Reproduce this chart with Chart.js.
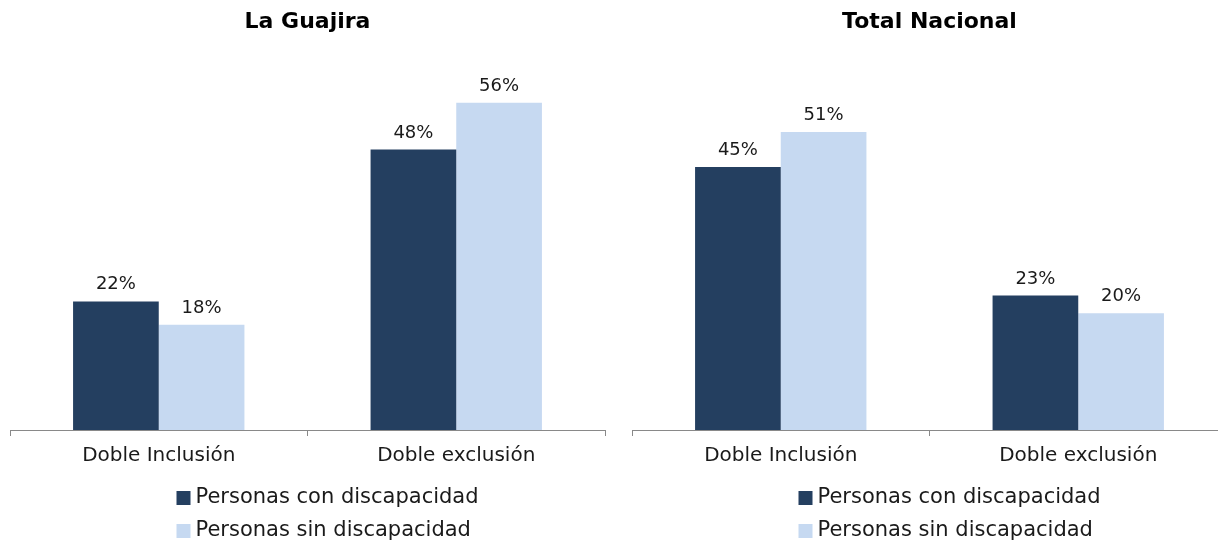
<!DOCTYPE html>
<html>
<head>
<meta charset="utf-8">
<script src="https://cdn.jsdelivr.net/npm/chart.js@4.4.1/dist/chart.umd.min.js"></script>
<style>
  html, body { margin: 0; padding: 0; background: #fff; overflow: hidden; }
  #wrap { position: relative; width: 1218px; height: 540px; overflow: hidden; }
  .box { position: absolute; top: 0; width: 615px; height: 540px; }
</style>
</head>
<body>
<div id="wrap">
  <div class="box" style="left:0"><canvas id="chartGuajira"></canvas></div>
  <div class="box" style="left:615px"><canvas id="chartNacional"></canvas></div>
</div>
<script>
// datos
var categorias = ['Doble Inclusión', 'Doble exclusión'];
var series = ['Personas con discapacidad', 'Personas sin discapacidad'];
var guajiraCon = [22, 48];
var guajiraSin = [18, 56];
var nacionalCon = [45, 23];
var nacionalSin = [51, 20];
var titulos = ['La Guajira', 'Total Nacional'];

var colores = ['#243f60', '#c6d9f1'];
var fuente = "'DejaVu Sans', sans-serif";

// etiquetas de valor encima de cada barra
const etiquetas = {
    id: 'etiquetas_valor',
    afterDatasetsDraw: (chart) => {
        const ctx = chart.ctx;
        ctx.save();
        ctx.fillStyle = '#1a1a1a';
        ctx.font = '18px ' + fuente;
        ctx.textAlign = 'center';
        ctx.textBaseline = 'alphabetic';
        chart.data.datasets.forEach(function (ds, i) {
            chart.getDatasetMeta(i).data.forEach(function (bar, j) {
                ctx.fillText(ds.data[j] + '%', bar.x, bar.y - 12);
            });
        });
        ctx.restore();
    }
};

// leyenda vertical (una serie por línea)
const leyenda = {
    id: 'leyenda_vertical',
    afterDraw: (chart) => {
        const ctx = chart.ctx;
        const area = chart.chartArea;
        const cx = (area.left + area.right) / 2;
        ctx.save();
        ctx.font = '21px ' + fuente;
        ctx.textBaseline = 'middle';
        ctx.textAlign = 'left';
        chart.data.datasets.forEach(function (ds, i) {
            var y = 498 + i * 33;
            ctx.fillStyle = ds.backgroundColor;
            ctx.fillRect(cx - 131, y - 7, 14, 14);
            ctx.fillStyle = '#1a1a1a';
            ctx.fillText(ds.label, cx - 112, y);
        });
        ctx.restore();
    }
};

function crearGrafico(id, titulo, con, sin, padIzq, padDer) {
    return new Chart(document.getElementById(id), {
        type: 'bar',
        data: {
            labels: categorias,
            datasets: [
                { label: series[0], data: con, backgroundColor: colores[0], categoryPercentage: 0.576, barPercentage: 1.0 },
                { label: series[1], data: sin, backgroundColor: colores[1], categoryPercentage: 0.576, barPercentage: 1.0 }
            ]
        },
        options: {
            responsive: false,
            animation: false,
            layout: { padding: { left: padIzq, right: padDer, top: 0, bottom: 70 } },
            plugins: {
                legend: { display: false },
                tooltip: { enabled: false },
                title: {
                    display: true,
                    text: titulo,
                    color: '#000',
                    font: { family: fuente, size: 22, weight: 'bold' },
                    padding: { top: 9, bottom: 44 }
                }
            },
            scales: {
                x: {
                    grid: { drawOnChartArea: false, drawTicks: true, tickLength: 6, color: '#898989', offset: true },
                    border: { display: true, color: '#898989', width: 1 },
                    ticks: { color: '#1a1a1a', font: { family: fuente, size: 20 }, padding: 8 },
                    afterFit: function (scale) { scale.height = 40; }
                },
                y: {
                    display: false,
                    min: 0,
                    max: 60
                }
            }
        },
        plugins: [etiquetas, leyenda]
    });
}

function tamano(id) {
    var c = document.getElementById(id);
    c.width = 615; c.height = 540;
    c.style.width = '615px'; c.style.height = '540px';
}
tamano('chartGuajira');
tamano('chartNacional');

crearGrafico('chartGuajira', titulos[0], guajiraCon, guajiraSin, 10, 10);
crearGrafico('chartNacional', titulos[1], nacionalCon, nacionalSin, 17, 3);
</script>
</body>
</html>
